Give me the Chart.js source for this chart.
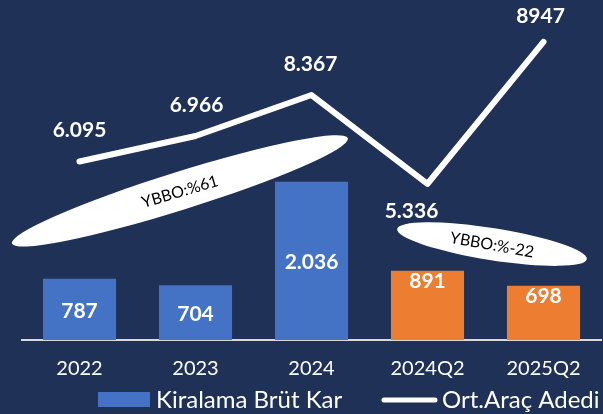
<!DOCTYPE html>
<html>
<head>
<meta charset="utf-8">
<script src="https://cdn.jsdelivr.net/npm/chart.js@4/dist/chart.umd.min.js"></script>
<style>
  html, body { margin: 0; padding: 0; background: #1f3157; }
  #wrap { width: 603px; height: 414px; }
</style>
</head>
<body>
<div id="wrap"><canvas id="c" width="603" height="414"></canvas></div>
<script>
// ---- data ----
const categories = ['2022', '2023', '2024', '2024Q2', '2025Q2'];
const barLabel = 'Kiralama Brüt Kar';
const barValues = [787, 704, 2036, 891, 698];
const barValueLabels = ['787', '704', '2.036', '891', '698'];
const lineLabel = 'Ort.Araç Adedi';
const lineValues = [6095, 6966, 8367, 5336, 10180];
const lineValueLabels = ['6.095', '6.966', '8.367', '5.336', '8947'];
const noteTexts = ['YBBO:%61', 'YBBO:%-22'];
const noteCenterX = [0.866, 3.556];   // category index units
const noteCenterY = [5094, 3276];     // line-axis units

// ---- styles ----
const BLUE = '#4472C4', ORANGE = '#ED7D31', BG = '#1f3157';
const barColors = [BLUE, BLUE, BLUE, ORANGE, ORANGE];
const FONT = 'Lato, "Open Sans", sans-serif';

const bgPlugin = {
  id: 'bg',
  beforeDraw(chart) {
    const ctx = chart.ctx;
    ctx.save();
    ctx.fillStyle = BG;
    ctx.fillRect(0, 0, chart.width, chart.height);
    ctx.restore();
  }
};

const notesPlugin = {
  id: 'notes',
  afterDatasetsDraw(chart) {
    const ctx = chart.ctx;
    const xs = chart.scales.x, ys = chart.scales.y1;
    const geo = [
      { rx: 176, ry: 19, ang: -17.4, tang: -16.5 },
      { rx: 96, ry: 16, ang: 9, tang: 10 }
    ];
    noteTexts.forEach((t, i) => {
      const cx = xs.getPixelForValue(noteCenterX[i]);
      const cy = ys.getPixelForValue(noteCenterY[i]);
      const g = geo[i];
      ctx.save();
      ctx.translate(cx, cy);
      ctx.rotate(g.ang * Math.PI / 180);
      ctx.beginPath();
      ctx.ellipse(0, 0, g.rx, g.ry, 0, 0, Math.PI * 2);
      ctx.fillStyle = '#ffffff';
      ctx.fill();
      ctx.restore();
      ctx.save();
      ctx.translate(cx, cy + 1);
      ctx.rotate(g.tang * Math.PI / 180);
      ctx.fillStyle = '#000000';
      ctx.font = '16px ' + FONT;
      ctx.textAlign = 'center';
      ctx.textBaseline = 'middle';
      ctx.fillText(t, 0, 0);
      ctx.restore();
    });
  }
};

const labelsPlugin = {
  id: 'vlabels',
  afterDatasetsDraw(chart) {
    const ctx = chart.ctx;
    ctx.save();
    ctx.fillStyle = '#ffffff';
    ctx.font = 'bold 21px ' + FONT;
    ctx.textAlign = 'center';
    ctx.textBaseline = 'middle';
    const bm = chart.getDatasetMeta(0);
    bm.data.forEach((el, i) => {
      let y;
      if (i < 3) y = (el.y + el.base) / 2 + 1.5;
      else y = el.y + 10;
      ctx.fillText(barValueLabels[i], el.x, y);
    });
    const lm = chart.getDatasetMeta(1);
    const offs = [[0, -31.5], [1, -31], [-1, -31], [-16, 27], [-3, -26]];
    lm.data.forEach((el, i) => {
      ctx.fillText(lineValueLabels[i], el.x + offs[i][0], el.y + offs[i][1]);
    });
    ctx.restore();
  }
};

const legendPlugin = {
  id: 'customLegend',
  afterDraw(chart) {
    const ctx = chart.ctx;
    const ds = chart.data.datasets;
    const y = 400;
    ctx.save();
    ctx.font = '24px ' + FONT;
    ctx.textBaseline = 'middle';
    ctx.textAlign = 'left';
    // bar item
    ctx.fillStyle = BLUE;
    ctx.fillRect(98, 392, 52, 15);
    ctx.fillStyle = '#ffffff';
    ctx.fillText(ds[0].label, 156, y);
    // line item
    ctx.strokeStyle = '#ffffff';
    ctx.lineWidth = 5;
    ctx.lineCap = 'round';
    ctx.beginPath();
    ctx.moveTo(384, y);
    ctx.lineTo(435, y);
    ctx.stroke();
    ctx.fillText(ds[1].label, 442, y);
    ctx.restore();
  }
};

new Chart(document.getElementById('c'), {
  data: {
    labels: categories,
    datasets: [
      {
        type: 'bar',
        label: barLabel,
        data: barValues,
        backgroundColor: barColors,
        borderWidth: 0,
        yAxisID: 'y',
        categoryPercentage: 1,
        barPercentage: 0.63,
        order: 2
      },
      {
        type: 'line',
        label: lineLabel,
        data: lineValues,
        borderColor: '#ffffff',
        backgroundColor: '#ffffff',
        borderWidth: 6,
        borderCapStyle: 'round',
        borderJoinStyle: 'round',
        pointRadius: 0,
        pointStyle: 'line',
        tension: 0,
        yAxisID: 'y1',
        clip: false,
        order: 1
      }
    ]
  },
  options: {
    responsive: false,
    animation: false,
    events: [],
    layout: { padding: { left: 21.5, right: 1.5, top: 0, bottom: 16 } },
    plugins: {
      legend: { display: false },
      tooltip: { enabled: false }
    },
    scales: {
      x: {
        offset: true,
        grid: { display: false, drawTicks: false },
        border: { display: true, color: '#d9d9d9', width: 2 },
        ticks: { color: '#ffffff', font: { family: FONT, size: 20 }, padding: 17 }
      },
      y: { display: false, min: 0, max: 4376 },
      y1: { display: false, min: 0, max: 11612 }
    }
  },
  plugins: [bgPlugin, notesPlugin, labelsPlugin, legendPlugin]
});
</script>
</body>
</html>
